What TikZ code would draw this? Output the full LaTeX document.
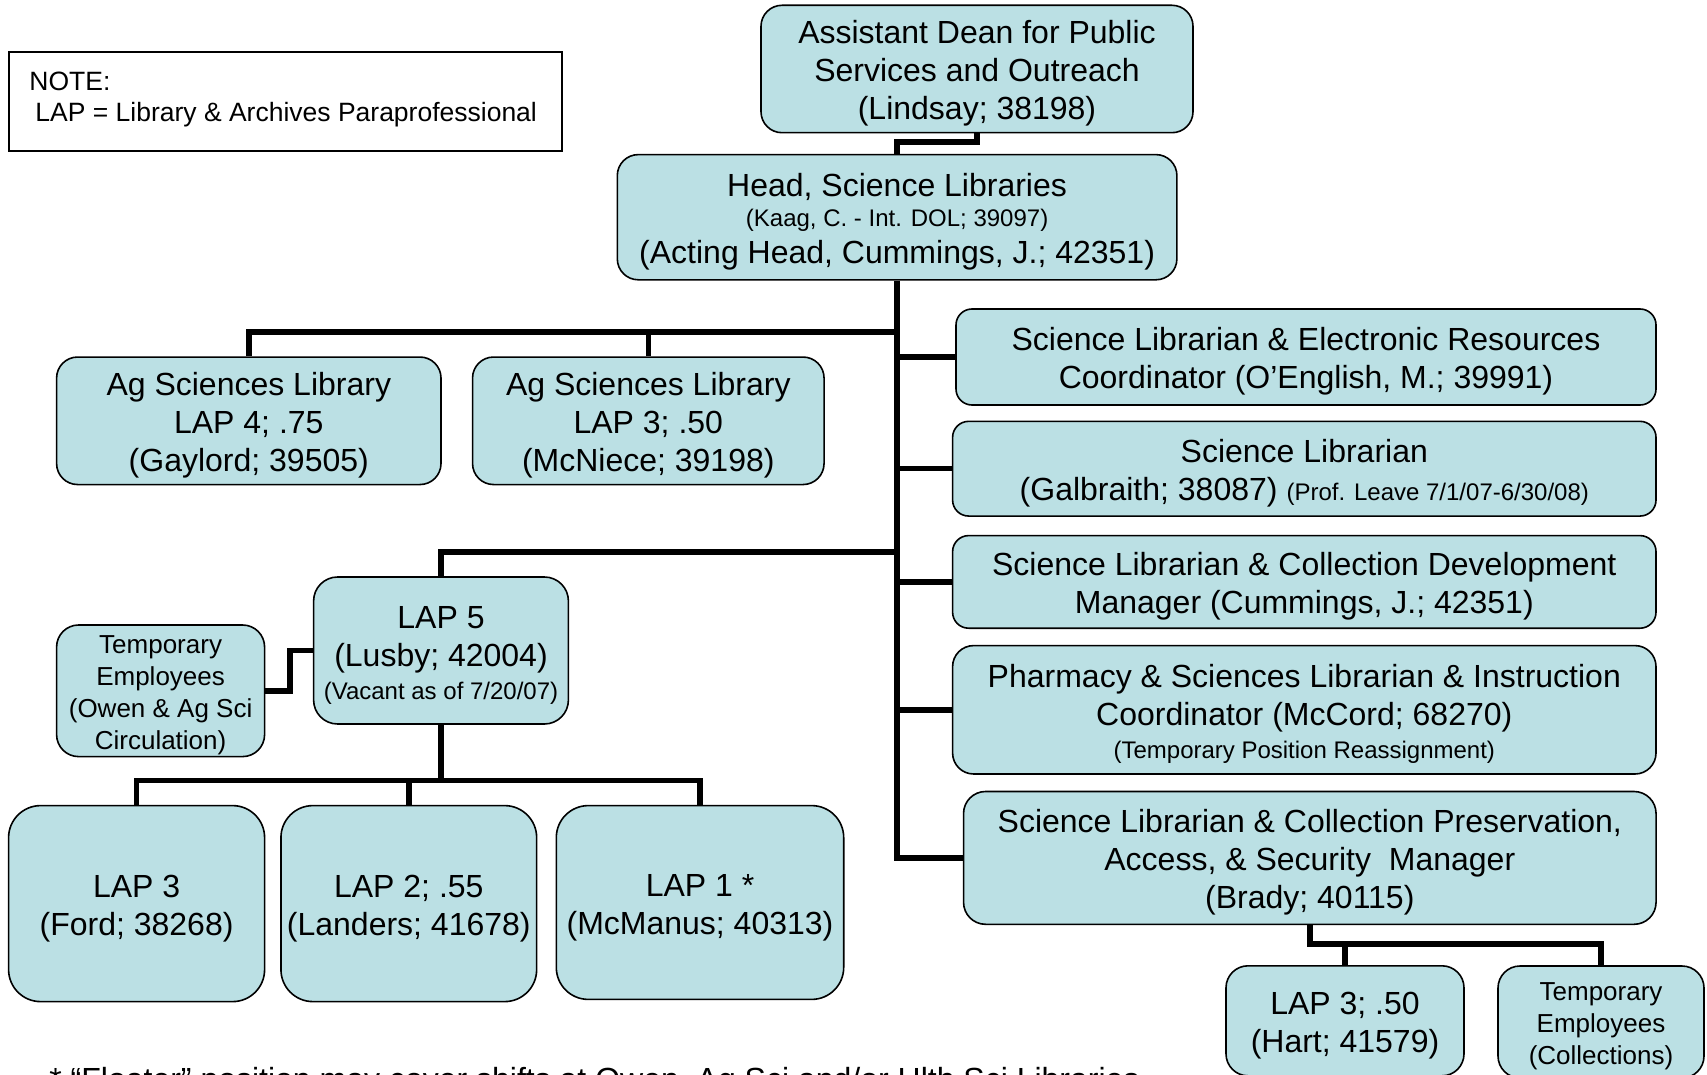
\documentclass[tikz,border=0pt]{standalone}
\usepackage{fontspec}
\setmainfont{Liberation Sans}
\definecolor{boxfill}{RGB}{187,224,228}
\newcommand{\toppad}{\rule{0pt}{1em}}
\begin{document}
\begin{tikzpicture}[x=0.5pt,y=-0.5pt,
  box/.style={draw=black, line width=0.8pt, fill=boxfill, align=center, inner sep=0pt,
    font=\fontsize{16}{19}\selectfont},
  tbox/.style={box, font=\fontsize{13}{16}\selectfont},
  conn/.style={line width=2.75pt, line join=miter},
  notebox/.style={draw=black, line width=0.9pt, inner sep=0pt},
  notetext/.style={anchor=base west, inner sep=0pt, font=\fontsize{13.25}{15.7}\selectfont},
  foot/.style={anchor=base west, inner sep=0pt, font=\fontsize{16}{19}\selectfont}]
\clip (0,0) rectangle (1707,1075);
\fill[white] (0,0) rectangle (1707,1075);

% note
\node[notebox, minimum width=276.55pt, minimum height=49.5pt] (note) at (285.25,101.8) {};
\node[notetext] (note1) at (29,90.5) {NOTE:};
\node[notetext] (note2) at (35,122) {LAP = Library \& Archives Paraprofessional};

% top
\node[box, minimum width=216pt, minimum height=63.7pt, rounded corners=10.5pt] (ad) at (977,69)
  {\toppad Assistant Dean for Public\\Services and Outreach\\(Lindsay; 38198)};
\node[box, minimum width=279.8pt, minimum height=62.6pt, rounded corners=10.5pt] (head) at (897.1,217.2)
  {\toppad Head, Science Libraries\\[-4.2pt]{\fontsize{12}{14}\selectfont (Kaag, C. - Int. DOL; 39097)}\\[-0.5pt](Acting Head, Cummings, J.; 42351)};

% ag sciences
\node[box, minimum width=192.2pt, minimum height=63.75pt, rounded corners=10.5pt] (ag1) at (248.8,420.8)
  {\toppad Ag Sciences Library\\LAP 4; .75\\(Gaylord; 39505)};
\node[box, minimum width=175.75pt, minimum height=63.75pt, rounded corners=10.5pt] (ag2) at (648.3,420.8)
  {\toppad Ag Sciences Library\\LAP 3; .50\\(McNiece; 39198)};

% right column
\node[box, minimum width=350pt, minimum height=48pt, rounded corners=8pt] (slerc) at (1306,357)
  {\toppad Science Librarian \& Electronic Resources\\Coordinator (O’English, M.; 39991)};
\node[box, minimum width=351.7pt, minimum height=47.35pt, rounded corners=8pt] (sl) at (1304.3,468.7)
  {\toppad Science Librarian\\(Galbraith; 38087) {\fontsize{12}{14}\selectfont (Prof. Leave 7/1/07-6/30/08)}};
\node[box, minimum width=351.7pt, minimum height=46.3pt, rounded corners=8pt] (slcdm) at (1304.3,581.9)
  {\toppad Science Librarian \& Collection Development\\Manager (Cummings, J.; 42351)};
\node[box, minimum width=351.7pt, minimum height=64.2pt, rounded corners=10.5pt] (pharm) at (1304.3,709.8)
  {\toppad Pharmacy \& Sciences Librarian \& Instruction\\Coordinator (McCord; 68270)\\[-2.5pt]{\fontsize{12}{14}\selectfont (Temporary Position Reassignment)}};
\node[box, minimum width=346.25pt, minimum height=66.4pt, rounded corners=11pt] (brady) at (1309.8,857.9)
  {\toppad Science Librarian \& Collection Preservation,\\Access, \& Security\ \ Manager\\(Brady; 40115)};

% LAP 5 group
\node[box, minimum width=127.4pt, minimum height=73.5pt, rounded corners=12pt] (lap5) at (441,650.5)
  {\toppad LAP 5\\(Lusby; 42004)\\[-2.5pt]{\fontsize{12}{14}\selectfont (Vacant as of 7/20/07)}};
\node[tbox, minimum width=104pt, minimum height=65.8pt, rounded corners=11pt] (tow) at (160.6,690.8)
  {\toppad Temporary\\Employees\\(Owen \& Ag Sci\\Circulation)};
\node[box, minimum width=128pt, minimum height=98pt, rounded corners=16pt] (ford) at (136.6,903.6)
  {\toppad LAP 3\\(Ford; 38268)};
\node[box, minimum width=127.85pt, minimum height=98pt, rounded corners=16pt] (lap2) at (408.8,903.6)
  {\toppad LAP 2; .55\\(Landers; 41678)};
\node[box, minimum width=143.7pt, minimum height=96.9pt, rounded corners=16pt] (lap1) at (700,902.5)
  {\toppad LAP 1 *\\(McManus; 40313)};

% bottom right
\node[box, minimum width=119pt, minimum height=55pt, rounded corners=11pt] (hart) at (1345,1020.8)
  {\toppad LAP 3; .50\\(Hart; 41579)};
\node[tbox, minimum width=103pt, minimum height=56pt, rounded corners=11pt] (coll) at (1601,1022)
  {\toppad Temporary\\Employees\\(Collections)};

% footnote
\node[foot] (fn) at (49,1090.5) {* “Floater” position may cover shifts at Owen, Ag Sci and/or Hlth Sci Libraries};

% connectors
\draw[conn] (ad.south) -- ++(0,8.7) -| (head.north);
\draw[conn] (head.south) |- (brady.west);
\draw[conn] (head.south |- slerc.west) -- (slerc.west);
\draw[conn] (head.south |- sl.west) -- (sl.west);
\draw[conn] (head.south |- slcdm.west) -- (slcdm.west);
\draw[conn] (head.south |- pharm.west) -- (pharm.west);
\coordinate (agj) at (897.1,332);
\draw[conn] (ag1.north) |- (agj);
\draw[conn] (ag2.north) -- (ag2.north |- agj);
\coordinate (l5j) at (897.1,552);
\draw[conn] (lap5.north) |- (l5j);
\coordinate (l5b) at (441,780.6);
\draw[conn] (lap5.south) -- (l5b);
\draw[conn] (ford.north) |- (lap1.north |- l5b) -- (lap1.north);
\draw[conn] (lap2.north) -- (lap2.north |- l5b);
\draw[conn] (tow.east) -- ++(24.4,0) |- (lap5.west);
\coordinate (bj) at (1309.8,944);
\draw[conn] (brady.south) |- (coll.north |- bj) -- (coll.north);
\draw[conn] (hart.north) -- (hart.north |- bj);
\end{tikzpicture}
\end{document}
